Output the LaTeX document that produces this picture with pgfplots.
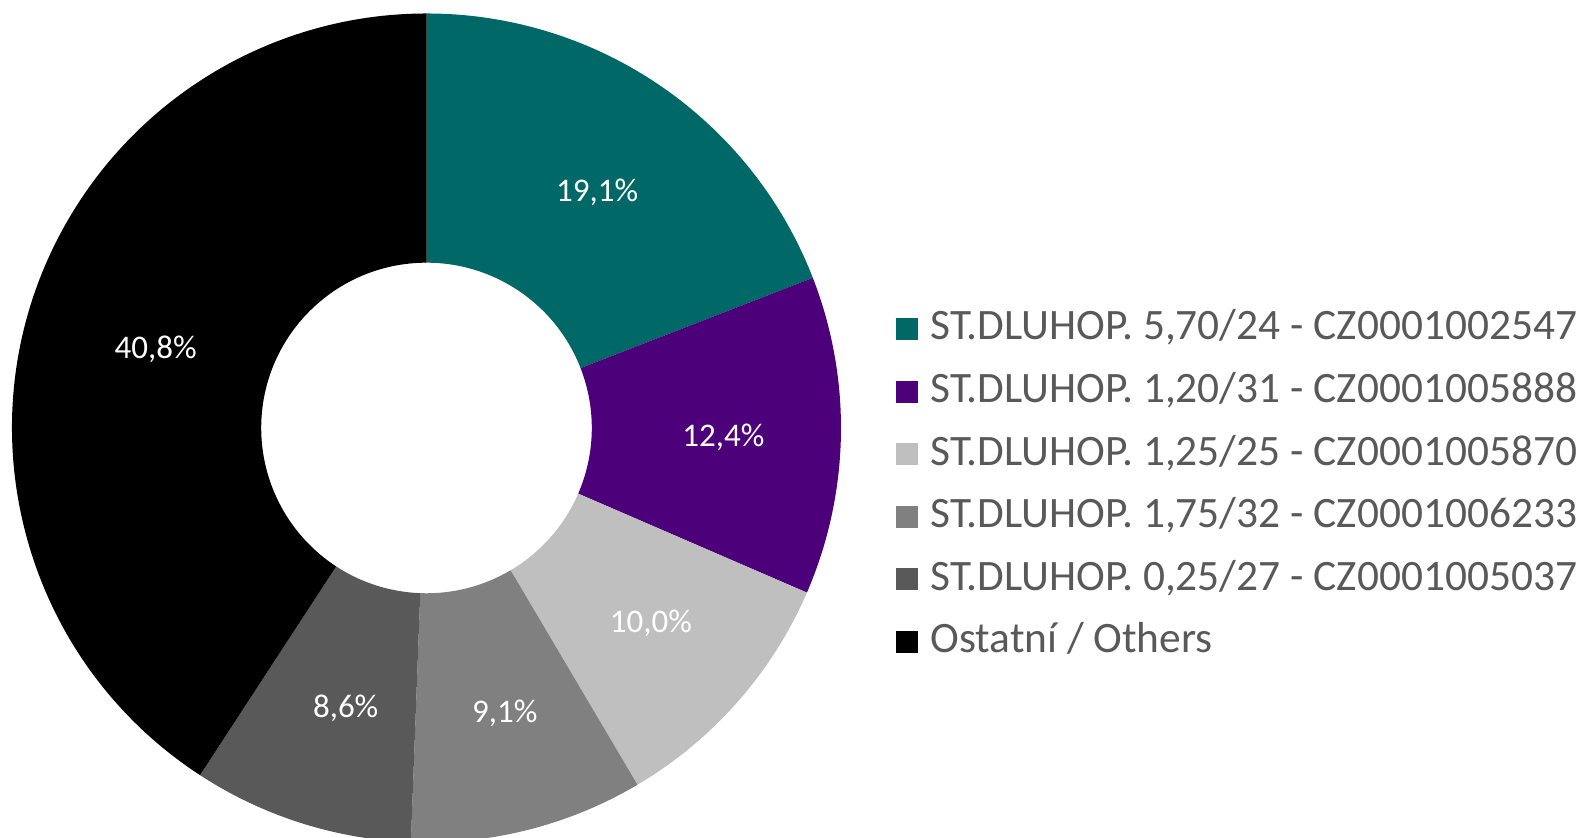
\documentclass[border=0pt]{standalone}
\usepackage{pgfplots}
\pgfplotsset{compat=1.18}
\usepackage{fontspec}
\setmainfont{Carlito}
\definecolor{c1}{RGB}{0,104,102}
\definecolor{c2}{RGB}{76,0,122}
\definecolor{c3}{RGB}{191,191,191}
\definecolor{c4}{RGB}{128,128,128}
\definecolor{c5}{RGB}{89,89,89}
\definecolor{c6}{RGB}{0,0,0}
\definecolor{legtext}{RGB}{89,89,89}
\def\cx{426.5}\def\cy{410}\def\Ro{414.5}\def\Ri{165.3}\def\Rl{289.9}
\begin{document}
\begin{tikzpicture}
\begin{axis}[
  hide axis, scale only axis,
  width=792pt, height=419pt,
  xmin=0, xmax=1584, ymin=0, ymax=838,
  clip=true,
  legend image code/.code={\fill[#1,draw=none] (0pt,-5.5pt) rectangle (11pt,5.5pt);},
  legend cell align=left,
  legend style={
    at={(axis cs:896,352.5)}, anchor=west, draw=none, fill=none,
    inner sep=0pt, row sep=12.3pt,
    font=\fontsize{21.7}{25}\selectfont, text=legtext,
    nodes={inner sep=0pt, text height=15pt, text depth=4pt},
    /tikz/every odd column/.append style={column sep=6pt},
  },
]
\def\cumul{0}
\pgfplotsforeachungrouped \v/\c in {19.1/c1,12.4/c2,10.0/c3,9.1/c4,8.6/c5,40.8/c6}{
  \pgfmathsetmacro\aone{90-3.6*\cumul}
  \pgfmathsetmacro\atwo{90-3.6*(\cumul+\v)}
  \pgfmathsetmacro\amid{(\aone+\atwo)/2}
  \pgfmathsetmacro\xa{\cx+\Ro*cos(\aone)}
  \pgfmathsetmacro\ya{\cy+\Ro*sin(\aone)}
  \pgfmathsetmacro\xb{\cx+\Ri*cos(\atwo)}
  \pgfmathsetmacro\yb{\cy+\Ri*sin(\atwo)}
  \pgfmathsetmacro\xl{\cx+\Rl*cos(\amid)+7}
  \pgfmathsetmacro\yl{\cy+\Rl*sin(\amid)-4}
  \pgfmathsetmacro\rop{\Ro*0.5}
  \pgfmathsetmacro\rip{\Ri*0.5}
  \edef\temp{\noexpand\fill[\c] (axis cs:\xa,\ya) arc[start angle=\aone, end angle=\atwo, radius=\rop pt] -- (axis cs:\xb,\yb) arc[start angle=\atwo, end angle=\aone, radius=\rip pt] -- cycle;
  \noexpand\node[text=white, font=\noexpand\fontsize{16.5}{19}\noexpand\selectfont] at (axis cs:\xl,\yl) {\noexpand\pgfmathprintnumber[fixed,fixed zerofill,precision=1,use comma,assume math mode=true]{\v}\noexpand\%};}
  \temp
  \pgfmathsetmacro\cumul{\cumul+\v}
}
\addlegendimage{fill=c1}\addlegendentry{ST.DLUHOP. 5,70/24 - CZ0001002547}
\addlegendimage{fill=c2}\addlegendentry{ST.DLUHOP. 1,20/31 - CZ0001005888}
\addlegendimage{fill=c3}\addlegendentry{ST.DLUHOP. 1,25/25 - CZ0001005870}
\addlegendimage{fill=c4}\addlegendentry{ST.DLUHOP. 1,75/32 - CZ0001006233}
\addlegendimage{fill=c5}\addlegendentry{ST.DLUHOP. 0,25/27 - CZ0001005037}
\addlegendimage{fill=c6}\addlegendentry{Ostatní / Others}
\end{axis}
\pgfresetboundingbox
\path[use as bounding box] (current axis.south west) rectangle (current axis.north east);
\end{tikzpicture}
\end{document}
